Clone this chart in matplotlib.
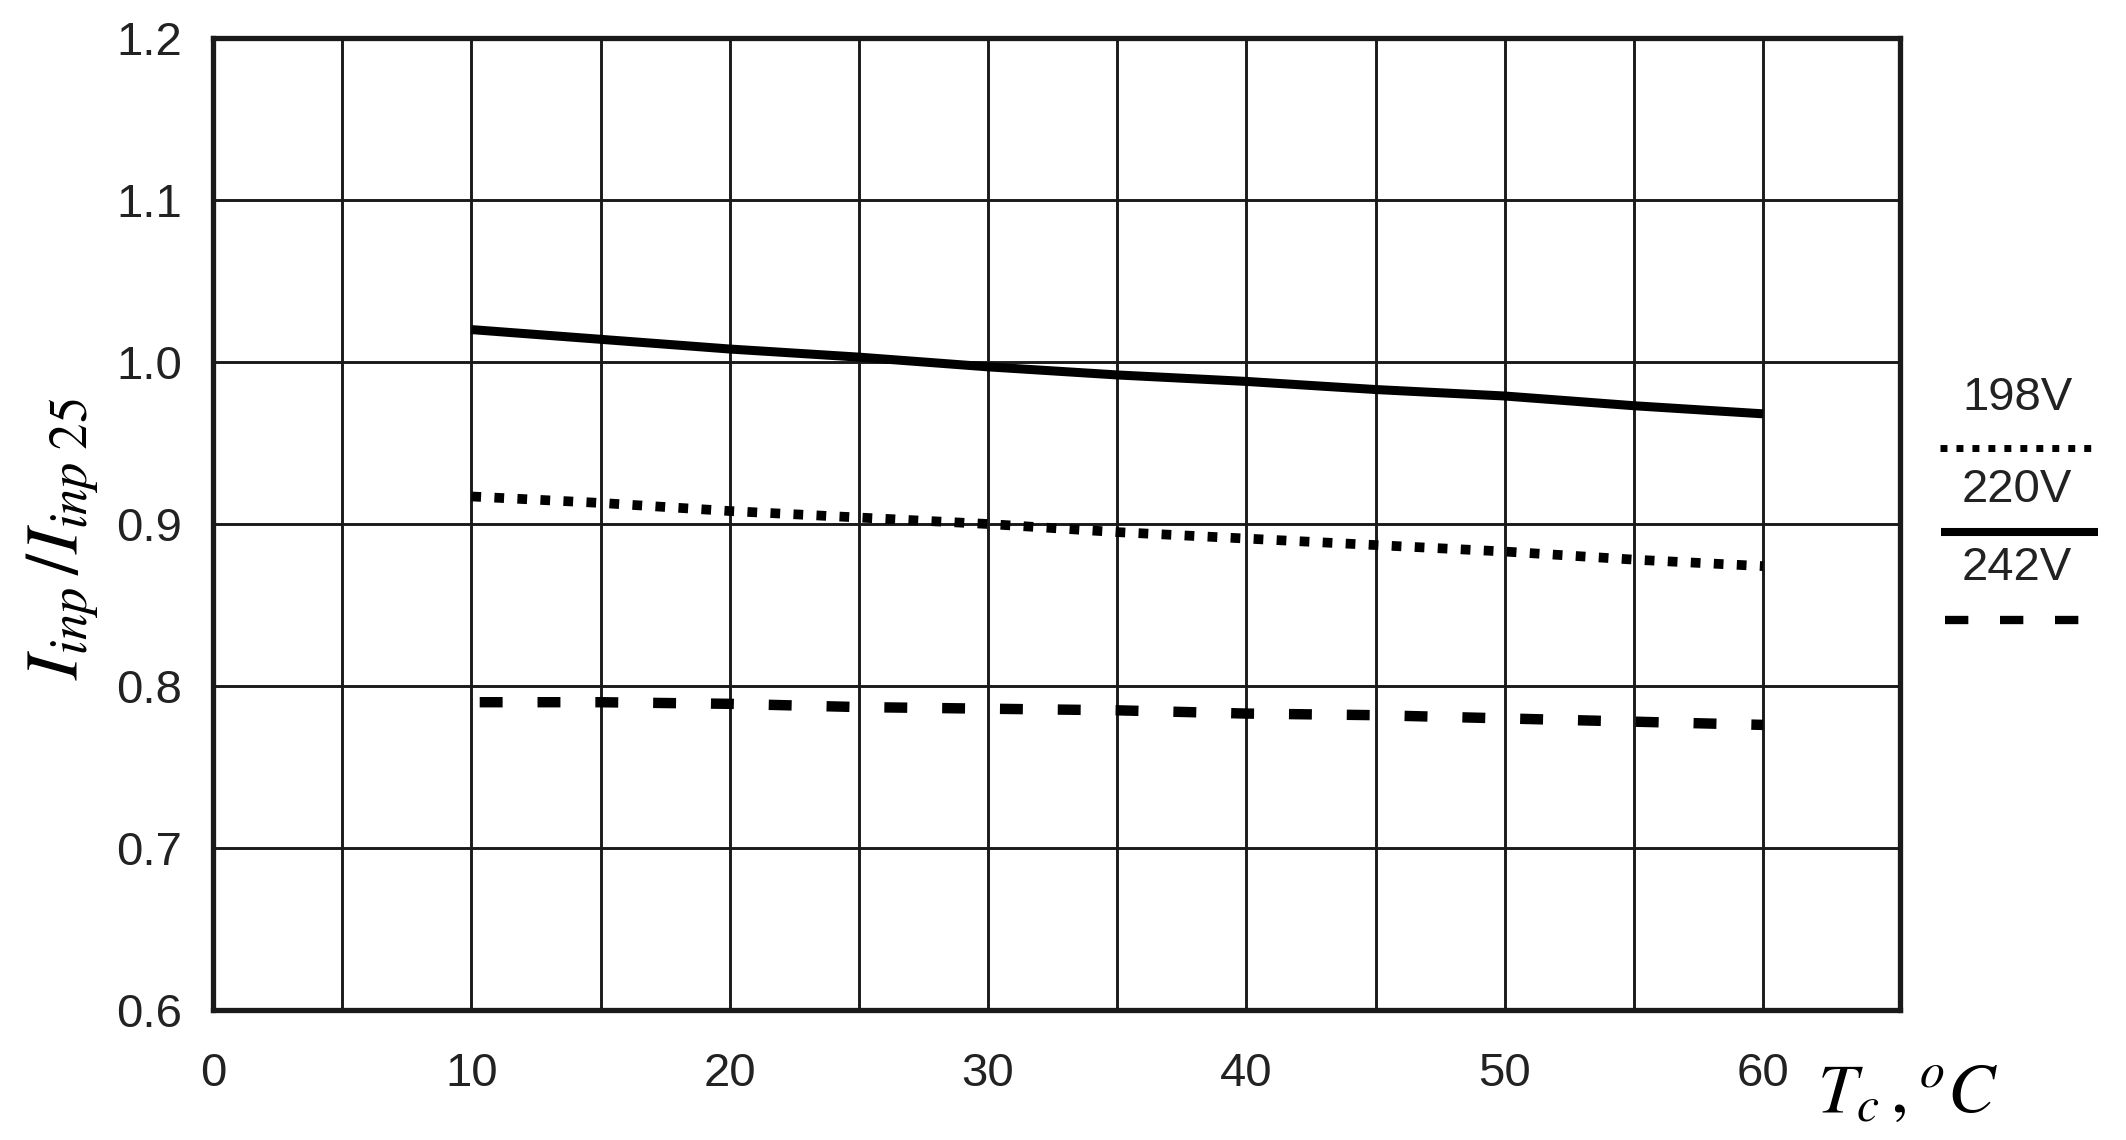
import matplotlib
matplotlib.use("Agg")
import matplotlib.pyplot as plt
from matplotlib.lines import Line2D

plt.rcParams['font.family'] = ['Liberation Sans', 'DejaVu Sans']
plt.rcParams['mathtext.fontset'] = 'stix'

# cell temperature, degC
temp = [10, 15, 20, 25, 30, 35, 40, 45, 50, 55, 60]
# relative current I_inp / I_inp25 for each supply voltage
v198 = [0.917, 0.913, 0.908, 0.904, 0.900, 0.895, 0.891, 0.887, 0.883, 0.878, 0.874]
v220 = [1.020, 1.014, 1.008, 1.003, 0.997, 0.992, 0.988, 0.983, 0.979, 0.973, 0.968]
v242 = [0.790, 0.790, 0.789, 0.787, 0.786, 0.785, 0.783, 0.782, 0.780, 0.778, 0.776]

labels = ['198V', '220V', '242V']
xticks = [0, 10, 20, 30, 40, 50, 60]
xgrid = [5, 10, 15, 20, 25, 30, 35, 40, 45, 50, 55, 60]
yticks = [0.6, 0.7, 0.8, 0.9, 1.0, 1.1, 1.2]

ink = '#1a1a1a'

fig = plt.figure(figsize=(21.26, 11.40), dpi=100)
ax = fig.add_axes([0.1002, 0.114, 0.7935, 0.8527])

for x in xgrid:
    ax.axvline(x, color=ink, lw=2.1, zorder=1)
for y in yticks[1:-1]:
    ax.axhline(y, color=ink, lw=2.1, zorder=1)

ax.plot(temp, v220, color='black', lw=6.5, solid_capstyle='butt', zorder=3)
ax.plot(temp, v198, color='black', lw=7.0, linestyle=(0, (1, 1.37)),
        dash_capstyle='butt', zorder=3)
ax.plot(temp, v242, color='black', lw=7.5, linestyle=(-0.8, (2.2, 3.35)),
        dash_capstyle='butt', zorder=3)

ax.set_xlim(0, 65.3)
ax.set_ylim(0.6, 1.2)
ax.set_xticks(xticks)
ax.set_xticklabels([str(v) for v in xticks])
ax.set_yticks(yticks)
ax.set_yticklabels(['%.1f' % v for v in yticks])
ax.tick_params(length=0, labelsize=34, labelcolor='#222222')
ax.tick_params(axis='x', pad=30)
ax.tick_params(axis='y', pad=22)
for s in ax.spines.values():
    s.set_linewidth(3.8)
    s.set_color(ink)

ax.set_ylabel(r'$I_{inp}\,/I_{inp\ 25}$', fontsize=54)
ax.yaxis.set_label_coords(-0.066, 0.485)
fig.text(1817 / 2126, 1 - 1112 / 1140, r'$T_{c}\,,{}^{o}C$', fontsize=51,
         ha='left', va='baseline')

# legend beside the plot: label above its line sample
W, H = 2126, 1140
styles = [dict(lw=5.0, linestyle=(0, (1, 1.3)), dash_capstyle='butt'),
          dict(lw=5.8, linestyle='-', solid_capstyle='butt'),
          dict(lw=6.0, linestyle=(0, (2.8, 3.8)), dash_capstyle='butt')]
text_y = [398, 490, 568]
line_y = [448, 532, 620]
line_x = [(1940, 2097), (1941, 2098), (1945, 2083)]
for lab, st, ty, ly, (x0, x1) in zip(labels, styles, text_y, line_y, line_x):
    fig.text(2017 / W, 1 - ty / H, lab, fontsize=34, color='#222222',
             ha='center', va='center')
    fig.add_artist(Line2D([x0 / W, x1 / W], [1 - ly / H, 1 - ly / H],
                          color='black', transform=fig.transFigure, **st))

fig.savefig('out.png', dpi=100, facecolor='white')
